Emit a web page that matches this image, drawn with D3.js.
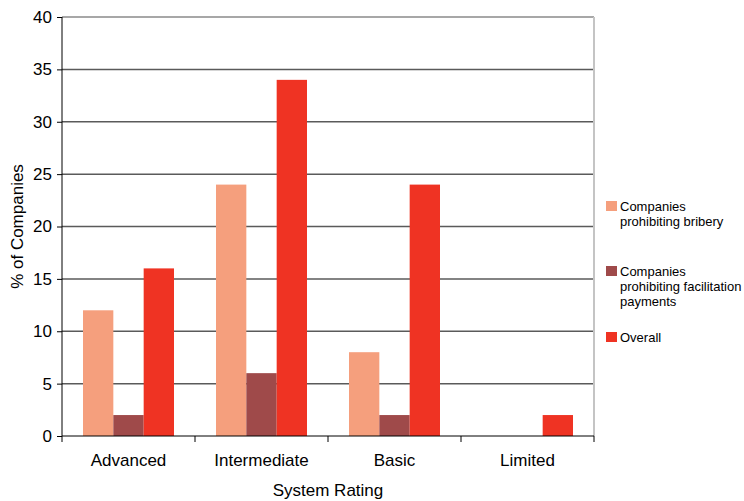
<!DOCTYPE html>
<html>
<head>
<meta charset="utf-8">
<script src="https://cdn.jsdelivr.net/npm/d3@7"></script>
<style>
  body { margin: 0; background: #fff; }
  text { font-family: "Liberation Sans", Arial, sans-serif; fill: #000; }
</style>
</head>
<body>
<div id="chart"></div>
<script>
var categories = ['Advanced', 'Intermediate', 'Basic', 'Limited'];
var seriesNames = ['Companies prohibiting bribery', 'Companies prohibiting facilitation payments', 'Overall'];
var bribery = [12, 24, 8, 0];
var facilitation = [2, 6, 2, 0];
var overall = [16, 34, 24, 2];
var yTicks = [0, 5, 10, 15, 20, 25, 30, 35, 40];

var legendLines = [
  ['Companies', 'prohibiting bribery'],
  ['Companies', 'prohibiting facilitation', 'payments'],
  ['Overall']
];
var colors = ['#f59f7d', '#9f4a4a', '#ef3323'];

var margin = { top: 17, left: 62 };
var width = 532;
var height = 419;

var svg = d3.select('#chart').append('svg')
  .attr('width', 744)
  .attr('height', 501);

var g = svg.append('g')
  .attr('transform', 'translate(' + margin.left + ',' + margin.top + ')');

var x0 = d3.scaleBand().domain(categories).range([0, width]);
var x1 = d3.scaleBand().domain([0, 1, 2]).range([21, 112]);
var y = d3.scaleLinear().domain([0, 40]).range([height, 0]);

// gridlines
g.selectAll('.grid')
  .data(yTicks.filter(function (d) { return d > 0; }))
  .enter().append('line')
  .attr('x1', 0).attr('x2', width)
  .attr('y1', function (d) { return y(d); })
  .attr('y2', function (d) { return y(d); })
  .attr('stroke', function (d) { return d === 40 ? '#8a8a8a' : '#5a5a5a'; })
  .attr('stroke-width', 1.5);

// right border
g.append('line')
  .attr('x1', width).attr('x2', width)
  .attr('y1', 0).attr('y2', height)
  .attr('stroke', '#c4c4c4').attr('stroke-width', 2);

var rows = categories.map(function (c, i) {
  return { cat: c, vals: [bribery[i], facilitation[i], overall[i]] };
});

var groups = g.selectAll('.group')
  .data(rows)
  .enter().append('g')
  .attr('transform', function (d) { return 'translate(' + x0(d.cat) + ',0)'; });

groups.selectAll('rect')
  .data(function (d) { return d.vals.map(function (v, k) { return { k: k, v: v }; }); })
  .enter().append('rect')
  .attr('x', function (d) { return x1(d.k); })
  .attr('width', x1.bandwidth())
  .attr('y', function (d) { return y(d.v); })
  .attr('height', function (d) { return height - y(d.v); })
  .attr('fill', function (d) { return colors[d.k]; });

// y axis
var yAxis = g.append('g')
  .call(d3.axisLeft(y).tickValues(yTicks).tickSize(5).tickPadding(5));
yAxis.selectAll('text').style('font-size', '17px');
yAxis.selectAll('line, path').attr('stroke', '#000');
yAxis.select('.domain').attr('d', 'M0,0V' + height);

// x axis
var xAxis = g.append('g')
  .attr('transform', 'translate(0,' + height + ')')
  .call(d3.axisBottom(x0).tickSize(0).tickPadding(18));
xAxis.selectAll('text').style('font-size', '17px');
xAxis.select('.domain').attr('stroke', '#000').attr('d', 'M0,0H' + width);
xAxis.selectAll('.sep')
  .data(d3.range(categories.length + 1))
  .enter().append('line')
  .attr('x1', function (d) { return d * x0.step(); })
  .attr('x2', function (d) { return d * x0.step(); })
  .attr('y1', 0).attr('y2', 6)
  .attr('stroke', '#000');

// axis titles
svg.append('text')
  .attr('x', margin.left + width / 2)
  .attr('y', 496)
  .attr('text-anchor', 'middle')
  .style('font-size', '17px')
  .text('System Rating');

svg.append('text')
  .attr('transform', 'translate(23,' + (margin.top + height / 2) + ') rotate(-90)')
  .attr('text-anchor', 'middle')
  .style('font-size', '17px')
  .text('% of Companies');

// legend
var legendY = [206, 271, 337];
var legend = svg.selectAll('.legend')
  .data(seriesNames)
  .enter().append('g')
  .attr('transform', function (d, i) { return 'translate(606,' + legendY[i] + ')'; });

legend.append('rect')
  .attr('x', 0).attr('y', -5)
  .attr('width', 11).attr('height', 10)
  .attr('fill', function (d, i) { return colors[i]; });

legend.append('text')
  .attr('x', 14)
  .attr('y', 4.5)
  .style('font-size', '13px')
  .selectAll('tspan')
  .data(function (d, i) { return legendLines[i]; })
  .enter().append('tspan')
  .attr('x', 14)
  .attr('dy', function (d, i) { return i === 0 ? 0 : 15; })
  .text(function (d) { return d; });
</script>
</body>
</html>
